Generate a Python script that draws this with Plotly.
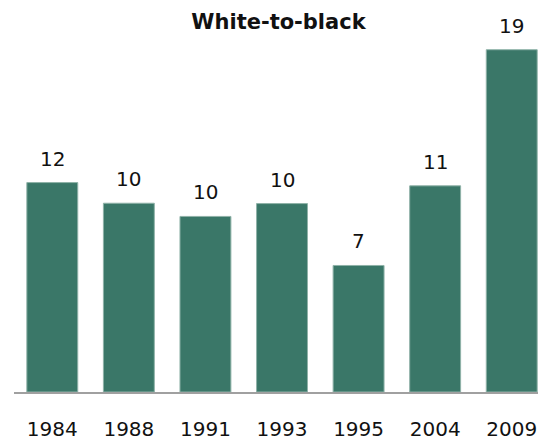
import plotly.graph_objects as go

years = ["1984", "1988", "1991", "1993", "1995", "2004", "2009"]
values = [11.57, 10.43, 9.70, 10.41, 6.99, 11.39, 18.91]
labels = ["12", "10", "10", "10", "7", "11", "19"]
title_text = "White-to-black"

BAR_COLOR = "#3a7768"
FONT = "DejaVu Sans, Verdana, sans-serif"

fig = go.Figure()
fig.add_trace(go.Bar(
    x=years, y=values,
    marker=dict(color=BAR_COLOR, line=dict(color="#8fb2a8", width=1)),
    hoverinfo="skip",
))

for i, (v, lab) in enumerate(zip(values, labels)):
    fig.add_annotation(x=i, y=v, text=lab, showarrow=False,
                       xref="x", yref="y", yanchor="bottom", yshift=10,
                       font=dict(family=FONT, size=20, color="#111111"))

fig.update_layout(
    width=542, height=440,
    margin=dict(l=14, r=4, t=30, b=48),
    paper_bgcolor="white", plot_bgcolor="white",
    bargap=0.335,
    showlegend=False,
    title=dict(text="<b>" + title_text + "</b>", x=(278.5) / 542, xanchor="center",
               y=(440 - 22) / 440, yanchor="middle", yref="container", xref="container",
               font=dict(family=FONT, size=21, color="#111111")),
    font=dict(family=FONT, size=20, color="#111111"),
)
fig.update_xaxes(type="category", range=[-0.5, 6.343], showline=True, linecolor="#a0a0a0",
                 linewidth=1.5, ticks="", showgrid=False, zeroline=False, automargin=False,
                 ticklabelstandoff=18, tickfont=dict(family=FONT, size=20, color="#111111"))
fig.update_yaxes(range=[0, 20], visible=False, showgrid=False, zeroline=False, automargin=False)

fig.write_html("out.html")
